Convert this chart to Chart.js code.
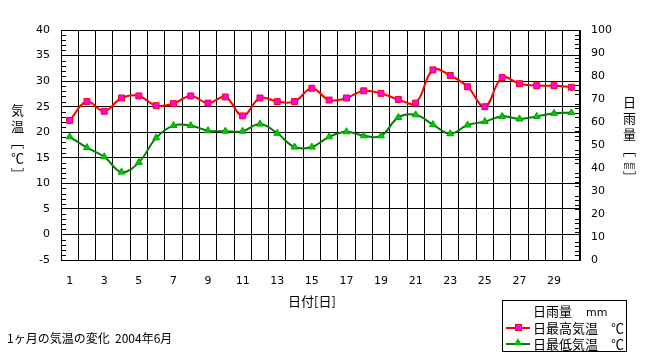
<!DOCTYPE html>
<html><head><meta charset="utf-8">
<script src="https://cdn.jsdelivr.net/npm/chart.js@4"></script>
<style>
html,body{margin:0;padding:0;background:#fff;}
#wrap{position:relative;width:648px;height:359px;overflow:hidden;font-family:"Noto Sans CJK JP",sans-serif;color:#000;}
canvas{position:absolute;left:0;top:0;}
.t{position:absolute;font-size:13px;line-height:13px;white-space:nowrap;}
.v{writing-mode:vertical-rl;letter-spacing:3px;}
.tcu{text-combine-upright:all;font-family:"DejaVu Sans",sans-serif;font-size:11px;}
#legend{position:absolute;left:502px;top:300px;width:123px;height:50px;border:1px solid #000;background:#fff;}
.lline{position:absolute;left:3px;width:24px;height:2px;}
.lsq{position:absolute;left:12px;width:5px;height:5px;background:#ff00ff;border:1px solid #ff0000;}
.ltri{position:absolute;left:11px;width:0;height:0;border-left:4px solid transparent;border-right:4px solid transparent;border-bottom:7px solid #00c000;}
</style></head><body>
<div id="wrap">
<canvas id="c" width="648" height="359"></canvas>
<div class="t v" style="left:11px;top:104px;">気温［℃］</div>
<div class="t v" style="left:623px;top:96px;">日雨量［<span class="tcu">mm</span>］</div>
<div class="t" style="left:288px;top:294px;">日付[日]</div>
<div class="t" style="left:7px;top:332px;font-size:12px;line-height:12px;">1ヶ月の気温の変化&nbsp;&nbsp;2004年6月</div>
<div id="legend">
  <div class="t" style="left:30px;top:3px;">日雨量</div>
  <div class="t" style="left:83px;top:5px;font-family:'DejaVu Sans',sans-serif;font-size:11px;">mm</div>
  <div class="lline" style="top:26px;background:#ff0000;"></div>
  <div class="lsq" style="top:23px;"></div>
  <div class="t" style="left:30px;top:20px;">日最高気温</div>
  <div class="t" style="left:108px;top:20px;">℃</div>
  <div class="lline" style="top:42px;background:#008000;"></div>
  <div class="ltri" style="top:37px;"></div>
  <div class="t" style="left:30px;top:36px;">日最低気温</div>
  <div class="t" style="left:108px;top:36px;">℃</div>
</div>
</div>
<script>
const days = ['1','2','3','4','5','6','7','8','9','10','11','12','13','14','15','16','17','18','19','20','21','22','23','24','25','26','27','28','29','30'];
const highTemp = [22.3,26.0,24.1,26.7,27.1,25.2,25.6,27.1,25.7,26.9,23.2,26.7,26.0,26.0,28.6,26.3,26.7,28.1,27.6,26.4,25.7,32.2,31.1,28.9,25.0,30.7,29.5,29.1,29.1,28.8];
const lowTemp = [19.1,17.0,15.2,12.2,14.1,18.9,21.3,21.3,20.3,20.2,20.2,21.6,19.8,17.1,17.1,19.1,20.1,19.3,19.3,22.9,23.4,21.5,19.7,21.4,22.1,23.1,22.6,23.1,23.7,23.8];
const rainMm = [];
const tempRange = [-5, 40];
const rainRange = [0, 100];

const minorTicks = {
  id: 'minorTicks',
  beforeDatasetsDraw(chart) {
    const {ctx, chartArea: a, scales} = chart;
    const y = scales.y, y1 = scales.y1;
    ctx.save();
    ctx.strokeStyle = '#000';
    ctx.lineWidth = 1;
    ctx.beginPath();
    for (let v = y.min; v <= y.max; v += 1) {
      if (v % 5 === 0) continue;
      const p = Math.round(y.getPixelForValue(v)) + 0.5;
      ctx.moveTo(a.left, p); ctx.lineTo(a.left + 5, p);
    }
    for (let v = y1.min; v <= y1.max; v += 2) {
      if (v % 10 === 0) continue;
      const p = Math.round(y1.getPixelForValue(v)) + 0.5;
      ctx.moveTo(a.right - 5, p); ctx.lineTo(a.right, p);
    }
    ctx.stroke();
    ctx.restore();
  }
};

const tickFont = {family: 'DejaVu Sans', size: 11};

new Chart(document.getElementById('c'), {
  type: 'line',
  data: {
    labels: days,
    datasets: [
      {label: '日雨量　mm', type: 'bar', data: rainMm, yAxisID: 'y1', backgroundColor: '#0000ff'},
      {label: '日最高気温　℃', data: highTemp, yAxisID: 'y', borderColor: '#ff0000', borderWidth: 2,
        pointStyle: 'rect', pointRadius: 4.2, pointBorderWidth: 1, pointBackgroundColor: '#ff00ff', pointBorderColor: '#ff0000', tension: 0.4},
      {label: '日最低気温　℃', data: lowTemp, yAxisID: 'y', borderColor: '#008000', borderWidth: 2,
        pointStyle: 'triangle', pointRadius: 4, pointBorderWidth: 1, pointBackgroundColor: '#00cc00', pointBorderColor: '#00a000', tension: 0.4}
    ]
  },
  options: {
    responsive: false,
    animation: false,
    devicePixelRatio: 1,
    layout: {padding: {left: 0, right: 0, top: 30, bottom: 69}},
    plugins: {legend: {display: false}, tooltip: {enabled: false}},
    scales: {
      x: {
        type: 'category',
        offset: true,
        grid: {offset: true, color: '#000', lineWidth: 1, drawTicks: false},
        border: {color: '#000', width: 1},
        ticks: {color: '#000', font: tickFont, padding: 15, autoSkip: false, maxRotation: 0,
          callback: function(value, index) { return index % 2 === 0 ? days[index] : ''; }},
        afterFit: s => { s.height = 30; }
      },
      y: {
        position: 'left',
        min: tempRange[0], max: tempRange[1],
        grid: {color: '#000', lineWidth: 1, drawTicks: false},
        border: {color: '#000', width: 1},
        ticks: {stepSize: 5, color: '#000', font: tickFont, padding: 11},
        afterFit: s => { s.width = 61; }
      },
      y1: {
        position: 'right',
        min: rainRange[0], max: rainRange[1],
        grid: {display: false, drawOnChartArea: false, drawTicks: false},
        border: {color: '#000', width: 1},
        ticks: {stepSize: 10, color: '#000', font: tickFont, padding: 11},
        afterFit: s => { s.width = 68; }
      }
    }
  },
  plugins: [minorTicks]
});
</script>
</body></html>
